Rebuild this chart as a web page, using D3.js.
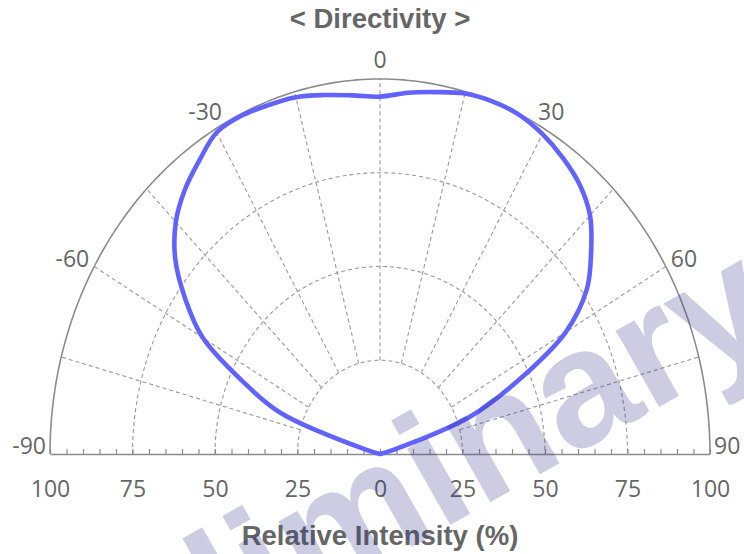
<!DOCTYPE html>
<html>
<head>
<meta charset="utf-8">
<script src="https://cdn.jsdelivr.net/npm/d3@7"></script>
<style>
  body { margin: 0; background: #fff; }
  svg { display: block; }
</style>
</head>
<body>
<svg id="chart" width="744" height="554"></svg>
<script>
// directivity data, angle in degrees, intensity in %
const angles = [-90, -85, -80, -75, -70, -65, -60, -55, -50, -45, -40, -35, -30, -25, -20, -15, -10, -5,
  0, 5, 10, 15, 20, 25, 30, 35, 40, 45, 50, 55, 60, 65, 70, 75, 80, 85, 90]
const intensity = [0, 0, 0, 4, 32, 46, 62, 72, 81, 87.5, 92, 95.5, 99, 99.5, 99, 98.5, 97.2, 96,
  95.3, 96.7, 98, 99.5, 100, 99.8, 98.5, 96.5, 94, 90, 83.5, 76.5, 65, 46, 29, 4, 0, 0, 0]

const angleLabels = [-90, -60, -30, 0, 30, 60, 90]
const gridAngles = [-75, -60, -45, -30, -15, 0, 15, 30, 45, 60, 75]
const ringLevels = [25, 50, 75]
const axisLabels = [-100, -75, -50, -25, 0, 25, 50, 75, 100]

const title = '< Directivity >'
const axisTitle = 'Relative Intensity (%)'
const watermark = 'Preliminary'

const cx = 380
const cy = 454
const radiusX = 330
const radiusY = 375

const svg = d3.select('#chart')

const rX = d3.scaleLinear().domain([0, 100]).range([0, radiusX])
const rY = d3.scaleLinear().domain([0, 100]).range([0, radiusY])
const xAxisScale = d3.scaleLinear().domain([-100, 100]).range([cx - radiusX, cx + radiusX])

const rad = (a) => (a * Math.PI) / 180
const pt = (a, r) => [cx + rX(r) * Math.sin(rad(a)), cy - rY(r) * Math.cos(rad(a))]

const arcLine = d3.line()
const sweep = d3.range(-90, 90.5, 1)

// dashed rings
svg
  .selectAll('.ring')
  .data(ringLevels)
  .join('path')
  .attr('class', 'ring')
  .attr('d', (lv) => arcLine(sweep.map((a) => pt(a, lv))))
  .attr('fill', 'none')
  .style('stroke', '#999')
  .style('stroke-width', '1.1px')
  .style('stroke-dasharray', '4,3')

// dashed spokes
svg
  .selectAll('.spoke')
  .data(gridAngles)
  .join('line')
  .attr('class', 'spoke')
  .attr('x1', (a) => pt(a, 25)[0])
  .attr('y1', (a) => pt(a, 25)[1])
  .attr('x2', (a) => pt(a, 100)[0])
  .attr('y2', (a) => pt(a, 100)[1])
  .style('stroke', '#999')
  .style('stroke-width', '1.1px')
  .style('stroke-dasharray', '4,3')

// outer arc
svg
  .append('path')
  .attr('d', arcLine(sweep.map((a) => pt(a, 100))))
  .attr('fill', 'none')
  .style('stroke', '#8c8c8c')
  .style('stroke-width', '1.6px')

// bottom axis
const axis = d3
  .axisBottom(xAxisScale)
  .tickValues(d3.range(-100, 101, 5))
  .tickSizeInner(-5)
  .tickSizeOuter(0)
  .tickPadding(27)
  .tickFormat((d) => (axisLabels.includes(d) ? Math.abs(d) : ''))

const gAxis = svg.append('g').attr('transform', `translate(0,${cy})`).call(axis)
gAxis.select('.domain').style('stroke', '#8c8c8c').style('stroke-width', '1.6px')
gAxis.selectAll('.tick line').style('stroke', '#8c8c8c').style('stroke-width', '1.2px')
gAxis
  .selectAll('.tick text')
  .style('font-family', '"Open Sans", sans-serif')
  .style('font-size', '23px')
  .style('fill', '#666')

// angle labels
const labelPos = (a) => {
  const [x, y] = pt(a, 100)
  if (a === 0) return [x, y - 11]
  const s = Math.sign(a)
  if (Math.abs(a) === 30) return [x - s * 7, y - 9]
  if (Math.abs(a) === 60) return [x + s * 5, y]
  return [x + s * 4, y]
}

svg
  .selectAll('.angle-label')
  .data(angleLabels)
  .join('text')
  .attr('class', 'angle-label')
  .attr('x', (a) => labelPos(a)[0])
  .attr('y', (a) => labelPos(a)[1])
  .style('text-anchor', (a) => (a === 0 ? 'middle' : a < 0 ? 'end' : 'start'))
  .style('font-family', '"Open Sans", sans-serif')
  .style('font-size', '23px')
  .style('fill', '#666')
  .text((a) => a)

// directivity curve
const curvePts = angles.map((a, i) => pt(a, intensity[i]))
svg
  .append('path')
  .attr('d', d3.line().curve(d3.curveCatmullRom.alpha(0.5))(curvePts))
  .attr('fill', 'none')
  .style('stroke', '#6262ff')
  .style('stroke-width', '4.6px')
  .style('stroke-linejoin', 'round')
  .style('stroke-linecap', 'round')

// titles
svg
  .append('text')
  .attr('x', cx)
  .attr('y', 28)
  .style('text-anchor', 'middle')
  .style('font-family', '"Liberation Sans", Arial, sans-serif')
  .style('font-weight', 'bold')
  .style('font-size', '27.5px')
  .style('fill', '#666')
  .text(title)

svg
  .append('text')
  .attr('x', cx)
  .attr('y', 545)
  .style('text-anchor', 'middle')
  .style('font-family', '"Liberation Sans", Arial, sans-serif')
  .style('font-weight', 'bold')
  .style('font-size', '27.5px')
  .style('fill', '#666')
  .text(axisTitle)

// watermark on top
svg
  .append('text')
  .attr('transform', 'translate(392,558) rotate(-29.5)')
  .style('text-anchor', 'middle')
  .style('font-family', '"Liberation Sans", Arial, sans-serif')
  .style('font-weight', 'bold')
  .style('font-size', '166px')
  .style('fill', 'rgb(40,40,135)')
  .style('fill-opacity', 0.24)
  .text(watermark)
</script>
</body>
</html>
